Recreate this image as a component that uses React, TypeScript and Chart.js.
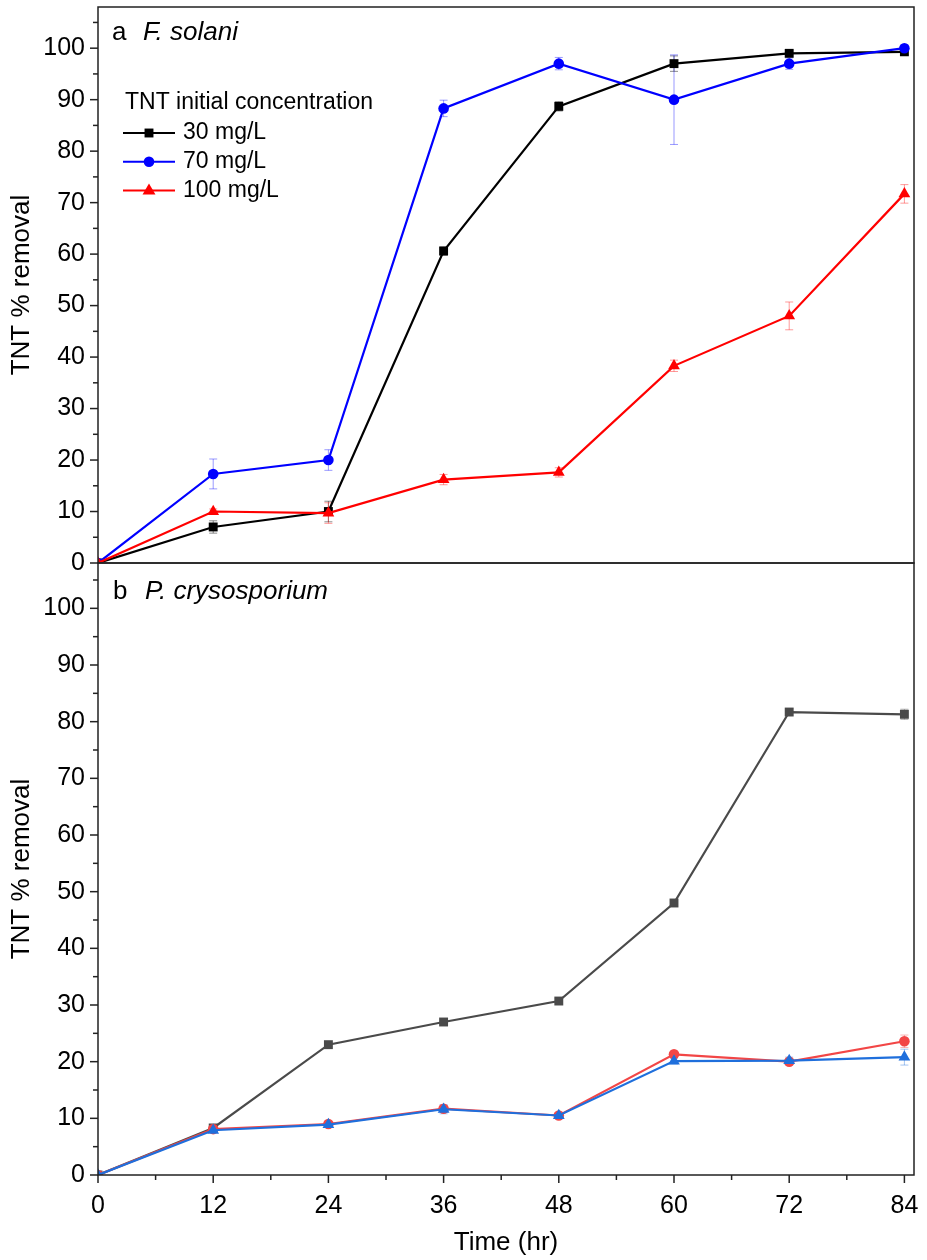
import React, { useEffect, useRef } from 'react';
import { Chart, registerables } from 'chart.js';

Chart.register(...registerables);

const hours = [0, 12, 24, 36, 48, 60, 72, 84];
const yTickValues = [0, 10, 20, 30, 40, 50, 60, 70, 80, 90, 100];
const xTickValues = [0, 12, 24, 36, 48, 60, 72, 84];

const seriesLabels = ['30 mg/L', '70 mg/L', '100 mg/L'];
const legendTitle = 'TNT initial concentration';
const panelALetter = 'a';
const panelAName = 'F. solani';
const panelBLetter = 'b';
const panelBName = 'P. crysosporium';
const yTitle = 'TNT % removal';
const xTitle = 'Time (hr)';

// Panel a (F. solani)
const a30 = [0, 7.0, 10.0, 60.6, 88.7, 97.0, 99.0, 99.3];
const a30Err = [0, 1.2, 2.0, 0.8, 0.9, 1.5, 0.5, 0.5];
const a70 = [0, 17.3, 20.0, 88.3, 97.0, 90.0, 97.0, 100.0];
const a70Err = [0, 2.9, 2.0, 1.6, 1.2, 8.7, 1.1, 0.6];
const a100 = [0, 10.0, 9.7, 16.2, 17.6, 38.3, 48.0, 71.7];
const a100Err = [0, 0.5, 2.0, 1.0, 0.9, 1.1, 2.7, 1.8];

// Panel b (P. crysosporium)
const b30 = [0, 8.3, 23.0, 27.0, 30.7, 48.0, 81.7, 81.3];
const b30Err = [0, 0.4, 0.4, 0.4, 0.4, 0.4, 0.6, 0.9];
const b70 = [0, 8.1, 9.0, 11.7, 10.5, 21.3, 20.0, 23.6];
const b70Err = [0, 0.4, 0.4, 0.6, 0.5, 0.5, 0.5, 1.1];
const b100 = [0, 7.9, 8.9, 11.6, 10.5, 20.1, 20.2, 20.8];
const b100Err = [0, 0.4, 0.4, 0.8, 0.5, 0.5, 0.6, 1.4];

const FONT = "'Liberation Sans', Arial, sans-serif";

const colA = ['#000000', '#0000ff', '#ff0000'];
const errColA = ['rgba(0,0,0,0.45)', 'rgba(0,0,255,0.4)', 'rgba(255,0,0,0.4)'];
const colB = ['#4a4a4a', '#f24646', '#1f6fdc'];
const errColB = ['rgba(74,74,74,0.4)', 'rgba(242,70,70,0.4)', 'rgba(31,111,220,0.4)'];
const styles = ['rect', 'circle', 'triangle'];
const radii = [6.3, 5.3, 6.8];

function drawMarker(ctx: CanvasRenderingContext2D, style: string, x: number, y: number, r: number, color: string) {
  ctx.save();
  ctx.fillStyle = color;
  ctx.beginPath();
  if (style === 'rect') {
    const s = r * Math.SQRT1_2;
    ctx.rect(x - s, y - s, 2 * s, 2 * s);
  } else if (style === 'circle') {
    ctx.arc(x, y, r, 0, Math.PI * 2);
  } else {
    ctx.moveTo(x, y - r);
    ctx.lineTo(x + r * 0.95, y + r * 0.6);
    ctx.lineTo(x - r * 0.95, y + r * 0.6);
    ctx.closePath();
  }
  ctx.fill();
  ctx.restore();
}

const errorMap: Record<string, { errs: number[]; color: string }> = {};

const panelPlugin = {
  id: 'panelPlugin',
  beforeDatasetsDraw(chart: any) {
    const ctx: CanvasRenderingContext2D = chart.ctx;
    chart.data.datasets.forEach((ds: any, i: number) => {
      const info = errorMap[ds.key];
      if (!info) return;
      const meta = chart.getDatasetMeta(i);
      const ys = chart.scales[ds.yAxisID];
      ctx.save();
      ctx.strokeStyle = info.color;
      ctx.lineWidth = 1;
      meta.data.forEach((pt: any, j: number) => {
        const e = info.errs[j];
        if (!e) return;
        const v = ds.data[j].y;
        const y1 = ys.getPixelForValue(v + e);
        const y2 = ys.getPixelForValue(v - e);
        const x = pt.x;
        ctx.beginPath();
        ctx.moveTo(x, y1);
        ctx.lineTo(x, y2);
        ctx.moveTo(x - 4, y1);
        ctx.lineTo(x + 4, y1);
        ctx.moveTo(x - 4, y2);
        ctx.lineTo(x + 4, y2);
        ctx.stroke();
      });
      ctx.restore();
    });
  },
  afterDraw(chart: any) {
    const ctx: CanvasRenderingContext2D = chart.ctx;
    const area = chart.chartArea;
    const xs = chart.scales.x;
    const panels = [chart.scales.yA, chart.scales.yB];
    ctx.save();
    ctx.strokeStyle = '#222';
    ctx.lineWidth = 1.5;
    panels.forEach((s: any) => {
      ctx.strokeRect(area.left, s.top, area.right - area.left, s.bottom - s.top);
      for (let v = 0; v <= 105; v += 5) {
        const y = s.getPixelForValue(v);
        const len = v % 10 === 0 ? 8 : 5;
        ctx.beginPath();
        ctx.moveTo(area.left - len, y);
        ctx.lineTo(area.left, y);
        ctx.stroke();
      }
    });
    for (let v = 0; v <= 84; v += 6) {
      const x = xs.getPixelForValue(v);
      const len = v % 12 === 0 ? 8 : 5;
      ctx.beginPath();
      ctx.moveTo(x, area.bottom);
      ctx.lineTo(x, area.bottom + len);
      ctx.stroke();
    }
    // panel labels
    ctx.fillStyle = '#000';
    ctx.textBaseline = 'middle';
    ctx.textAlign = 'left';
    const pa = chart.scales.yA;
    const pb = chart.scales.yB;
    ctx.font = `26px ${FONT}`;
    ctx.fillText(panelALetter, area.left + 14, pa.top + 26);
    ctx.fillText(panelBLetter, area.left + 15, pb.top + 29);
    ctx.font = `italic 26px ${FONT}`;
    ctx.fillText(panelAName, area.left + 45, pa.top + 26);
    ctx.fillText(panelBName, area.left + 47, pb.top + 29);
    // legend
    ctx.font = `23px ${FONT}`;
    const lx = area.left + 27;
    ctx.fillText(legendTitle, lx, pa.top + 96);
    seriesLabels.forEach((lab, i) => {
      const y = pa.top + 126 + i * 28.7;
      ctx.strokeStyle = colA[i];
      ctx.lineWidth = 2;
      ctx.beginPath();
      ctx.moveTo(lx - 2, y);
      ctx.lineTo(lx + 50, y);
      ctx.stroke();
      drawMarker(ctx, styles[i], lx + 24, y, radii[i], colA[i]);
      ctx.fillStyle = '#000';
      ctx.fillText(lab, lx + 58, y);
    });
    ctx.restore();
  },
};

function makeDataset(key: string, label: string, vals: number[], errs: number[], axis: string, color: string, errColor: string, idx: number, order: number) {
  errorMap[key] = { errs, color: errColor };
  return {
    key,
    label,
    data: hours.map((h, i) => ({ x: h, y: vals[i] })),
    yAxisID: axis,
    xAxisID: 'x',
    borderColor: color,
    backgroundColor: color,
    borderWidth: 2.2,
    pointStyle: styles[idx],
    pointRadius: radii[idx],
    pointBorderWidth: 0,
    pointBackgroundColor: color,
    order,
    tension: 0,
  };
}

export default function App() {
  const ref = useRef<HTMLCanvasElement | null>(null);
  useEffect(() => {
    if (!ref.current) return;
    const tickFont = { family: FONT, size: 25 };
    const titleFont = { family: FONT, size: 26 };
    const yCommon = (weight: number) => ({
      type: 'linear' as const,
      position: 'left' as const,
      stack: 'panels',
      stackWeight: weight,
      min: 0,
      max: 108,
      grid: { display: false, drawTicks: false },
      border: { display: false },
      afterBuildTicks: (s: any) => {
        s.ticks = yTickValues.map((v) => ({ value: v }));
      },
      afterFit: (s: any) => {
        s.width = 98;
        s.paddingTop = 0;
        s.paddingBottom = 0;
        s.paddingLeft = 0;
        s.paddingRight = 0;
      },
      ticks: { font: tickFont, color: '#000', padding: 13, autoSkip: false },
      title: { display: true, text: yTitle, font: titleFont, color: '#000', padding: { top: 6, bottom: 0 } },
    });
    const chart = new Chart(ref.current, {
      type: 'line',
      data: {
        datasets: [
          makeDataset('a30', seriesLabels[0], a30, a30Err, 'yA', colA[0], errColA[0], 0, 3),
          makeDataset('a70', seriesLabels[1], a70, a70Err, 'yA', colA[1], errColA[1], 1, 2),
          makeDataset('a100', seriesLabels[2], a100, a100Err, 'yA', colA[2], errColA[2], 2, 1),
          makeDataset('b30', seriesLabels[0], b30, b30Err, 'yB', colB[0], errColB[0], 0, 6),
          makeDataset('b70', seriesLabels[1], b70, b70Err, 'yB', colB[1], errColB[1], 1, 5),
          makeDataset('b100', seriesLabels[2], b100, b100Err, 'yB', colB[2], errColB[2], 2, 4),
        ] as any,
      },
      options: {
        animation: false,
        responsive: false,
        devicePixelRatio: 1,
        layout: { autoPadding: false, padding: { top: 7, right: 13, left: 0, bottom: 0 } },
        plugins: { legend: { display: false }, tooltip: { enabled: false } },
        scales: {
          x: {
            type: 'linear',
            position: 'bottom',
            min: 0,
            max: 85,
            grid: { display: false, drawTicks: false },
            border: { display: false },
            afterBuildTicks: (s: any) => {
              s.ticks = xTickValues.map((v) => ({ value: v }));
            },
            afterFit: (s: any) => {
              s.height = 85;
              s.paddingTop = 0;
              s.paddingBottom = 0;
              s.paddingLeft = 0;
              s.paddingRight = 0;
            },
            ticks: { font: tickFont, color: '#000', padding: 16, autoSkip: false, maxRotation: 0 },
            title: { display: true, text: xTitle, font: titleFont, color: '#000', padding: { top: 0, bottom: 2 } },
          },
          yB: yCommon(612),
          yA: yCommon(556),
        } as any,
      },
      plugins: [panelPlugin],
    });
    return () => chart.destroy();
  }, []);
  return (
    <div style={{ position: 'absolute', left: 0, top: 0, width: 927, height: 1260, background: '#fff' }}>
      <canvas ref={ref} width={927} height={1260} style={{ display: 'block', width: 927, height: 1260 }} />
    </div>
  );
}
